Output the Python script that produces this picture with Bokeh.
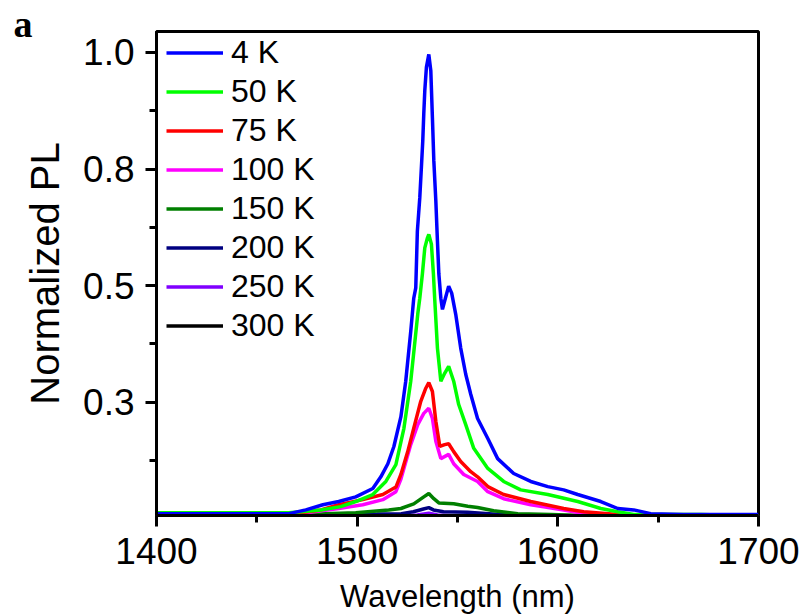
from bokeh.plotting import figure
from bokeh.models import (Range1d, FixedTicker, Legend, LegendItem)
from bokeh.embed import file_html
from bokeh.resources import INLINE

# ---------------- data ----------------
labels = ["4 K", "50 K", "75 K", "100 K", "150 K", "200 K", "250 K", "300 K"]
colors = ["#0000FF", "#00FF00", "#FF0000", "#FF00FF", "#007F00", "#000080", "#8000FF", "#000000"]

wl_4K = [1400, 1437, 1466, 1474.4, 1482.9, 1490.8, 1499.3, 1507.8, 1511.8, 1515.3, 1518.3,
         1521.8, 1524.2, 1526.7, 1528.2, 1529.2, 1530.0, 1531.2, 1532.0, 1532.7, 1533.2,
         1533.7, 1534.5, 1535.7, 1536.7, 1537.5, 1538.2, 1539.2, 1540.0, 1540.7, 1541.7,
         1542.5, 1543.6, 1545.6, 1547.1, 1549.1, 1551.6, 1554.1, 1556.6, 1560.0, 1565.1,
         1570.0, 1578.0, 1586.5, 1595.0, 1602.9, 1609.9, 1621.4, 1629.9, 1637.8, 1646.3,
         1662.7, 1700]
pl_4K = [0.011, 0.011, 0.011, 0.019, 0.030, 0.037, 0.047, 0.065, 0.090, 0.118, 0.155,
         0.219, 0.295, 0.402, 0.473, 0.495, 0.617, 0.688, 0.753, 0.811, 0.869,
         0.918, 0.968, 0.996, 0.961, 0.860, 0.768, 0.682, 0.596, 0.525, 0.473,
         0.449, 0.467, 0.499, 0.484, 0.439, 0.366, 0.310, 0.267, 0.215, 0.172,
         0.129, 0.097, 0.080, 0.069, 0.062, 0.052, 0.037, 0.022, 0.019, 0.011,
         0.009, 0.009]

wl_50K = [1400, 1466, 1481.9, 1491.8, 1499.3, 1507.8, 1514.3, 1519.3, 1523.3, 1526.7,
          1530.2, 1531.2, 1532.5, 1533.7, 1535.0, 1535.7, 1537.0, 1538.0, 1538.7, 1540.0,
          1541.7, 1543.6, 1545.6, 1548.1, 1550.6, 1554.1, 1558.1, 1565.1, 1573.0, 1581.5,
          1595.0, 1609.9, 1621.4, 1629.9, 1637.8, 1671.2, 1700]
pl_50K = [0.013, 0.013, 0.019, 0.026, 0.037, 0.052, 0.080, 0.116, 0.194, 0.295,
          0.439, 0.473, 0.525, 0.581, 0.602, 0.610, 0.589, 0.525, 0.467, 0.366,
          0.295, 0.312, 0.327, 0.295, 0.245, 0.202, 0.151, 0.108, 0.080, 0.062,
          0.052, 0.037, 0.022, 0.015, 0.009, 0.009, 0.006]

wl_75K = [1400, 1471.9, 1481.9, 1490.8, 1502.8, 1512.8, 1519.3, 1521.8, 1525.2, 1528.2,
          1531.7, 1534.2, 1535.7, 1537.5, 1539.2, 1541.2, 1543.6, 1545.6, 1548.1, 1551.6,
          1556.6, 1560.0, 1565.1, 1573.0, 1586.5, 1602.9, 1612.9, 1629.9, 1671.2, 1700]
pl_75K = [0.011, 0.013, 0.019, 0.030, 0.041, 0.052, 0.068, 0.095, 0.144, 0.194,
          0.252, 0.280, 0.292, 0.273, 0.209, 0.155, 0.159, 0.161, 0.144, 0.123,
          0.101, 0.090, 0.069, 0.052, 0.037, 0.022, 0.015, 0.009, 0.006, 0.006]

wl_100K = [1400, 1471.9, 1490.8, 1502.8, 1512.8, 1519.3, 1521.8, 1526.7, 1530.2, 1533.2,
           1535.7, 1537.5, 1539.2, 1541.7, 1545.6, 1548.1, 1553.1, 1560.0, 1565.1, 1573.0,
           1586.5, 1602.9, 1612.9, 1631.4, 1700]
pl_100K = [0.009, 0.011, 0.022, 0.030, 0.041, 0.058, 0.085, 0.159, 0.202, 0.226,
           0.237, 0.215, 0.166, 0.129, 0.138, 0.118, 0.095, 0.080, 0.058, 0.043,
           0.030, 0.019, 0.011, 0.006, 0.006]

wl_150K = [1400, 1471.9, 1499.3, 1515.7, 1521.8, 1528.2, 1533.2, 1535.7, 1538.2, 1540.7,
           1548.1, 1555.1, 1560.0, 1568.0, 1580.0, 1596.4, 1621.4, 1700]
pl_150K = [0.006, 0.009, 0.013, 0.019, 0.022, 0.032, 0.047, 0.054, 0.043, 0.034,
           0.032, 0.027, 0.024, 0.017, 0.011, 0.009, 0.006, 0.006]

wl_200K = [1400, 1470, 1510, 1522, 1528, 1533, 1535.7, 1538, 1543, 1555, 1571, 1600, 1700]
pl_200K = [0.006, 0.008, 0.010, 0.011, 0.015, 0.021, 0.024, 0.019, 0.015, 0.014, 0.009, 0.006, 0.005]

wl_250K = [1400, 1520, 1530, 1535.7, 1540, 1550, 1700]
pl_250K = [0.004, 0.005, 0.008, 0.012, 0.008, 0.006, 0.003]

wl_300K = [1400, 1520, 1530, 1535.7, 1540, 1560, 1700]
pl_300K = [0.003, 0.004, 0.005, 0.007, 0.005, 0.004, 0.003]

series_x = [wl_4K, wl_50K, wl_75K, wl_100K, wl_150K, wl_200K, wl_250K, wl_300K]
series_y = [pl_4K, pl_50K, pl_75K, pl_100K, pl_150K, pl_200K, pl_250K, pl_300K]

x_ticks = [1400, 1500, 1600, 1700]
x_minor = [1450, 1550, 1650]
y_ticks = [0.25, 0.5, 0.75, 1.0]
y_tick_labels = ["0.3", "0.5", "0.8", "1.0"]
y_minor = [0.125, 0.375, 0.625, 0.875]

# ---------------- figure ----------------
FONT = "Liberation Sans"
p = figure(width=806, height=616, output_backend="svg", toolbar_location=None,
           x_range=Range1d(1400, 1700), y_range=Range1d(0.007, 1.045),
           min_border_left=156, min_border_right=48, min_border_top=31, min_border_bottom=101)
p.background_fill_color = "white"
p.border_fill_color = "white"
p.xgrid.visible = False
p.ygrid.visible = False
p.outline_line_color = "black"
p.outline_line_width = 3

# panel letter as the plot title, pulled to the top-left corner
p.title.text = "a"
p.title.align = "left"
p.title.offset = -143
p.title.standoff = -26
p.title.vertical_align = "bottom"
p.title.text_font = "Liberation Serif"
p.title.text_font_style = "bold"
p.title.text_font_size = "38px"
p.title.text_color = "black"

renderers = []
for xs, ys, c in zip(series_x, series_y, colors):
    renderers.append(p.line(xs, ys, line_color=c, line_width=3.5))
# draw order: put 4 K on top
p.renderers = list(reversed(p.renderers))

for ax in (p.xaxis[0], p.yaxis[0]):
    ax.axis_line_width = 3
    ax.axis_line_color = "black"
    ax.major_tick_line_width = 3
    ax.minor_tick_line_width = 3
    ax.major_tick_in = 0
    ax.major_tick_out = 11
    ax.minor_tick_in = 0
    ax.minor_tick_out = 7
    ax.major_label_text_font = FONT
    ax.major_label_text_font_size = "37px"
    ax.major_label_text_color = "black"
    ax.axis_label_text_font = FONT
    ax.axis_label_text_font_style = "normal"
    ax.axis_label_text_color = "black"

p.xaxis[0].ticker = FixedTicker(ticks=x_ticks, minor_ticks=x_minor)
p.yaxis[0].ticker = FixedTicker(ticks=y_ticks, minor_ticks=y_minor)
p.yaxis[0].major_label_overrides = {t: s for t, s in zip(y_ticks, y_tick_labels)}
p.xaxis[0].axis_label = "Wavelength (nm)"
p.yaxis[0].axis_label = "Normalized PL"
p.xaxis[0].axis_label_text_font_size = "31px"
p.yaxis[0].axis_label_text_font_size = "40px"
p.xaxis[0].major_label_standoff = 11
p.yaxis[0].major_label_standoff = 11
p.xaxis[0].axis_label_standoff = 12
p.yaxis[0].axis_label_standoff = 13

legend = Legend(items=[LegendItem(label=l, renderers=[r]) for l, r in zip(labels, renderers)],
                location=(10, 170), padding=0, margin=0, spacing=0,
                glyph_width=57, glyph_height=39, label_height=39, label_standoff=8,
                label_text_font=FONT, label_text_font_size="32px", label_text_color="black",
                border_line_alpha=0, background_fill_alpha=0)
p.add_layout(legend, "center")

open("out.html", "w").write(file_html(p, INLINE))
